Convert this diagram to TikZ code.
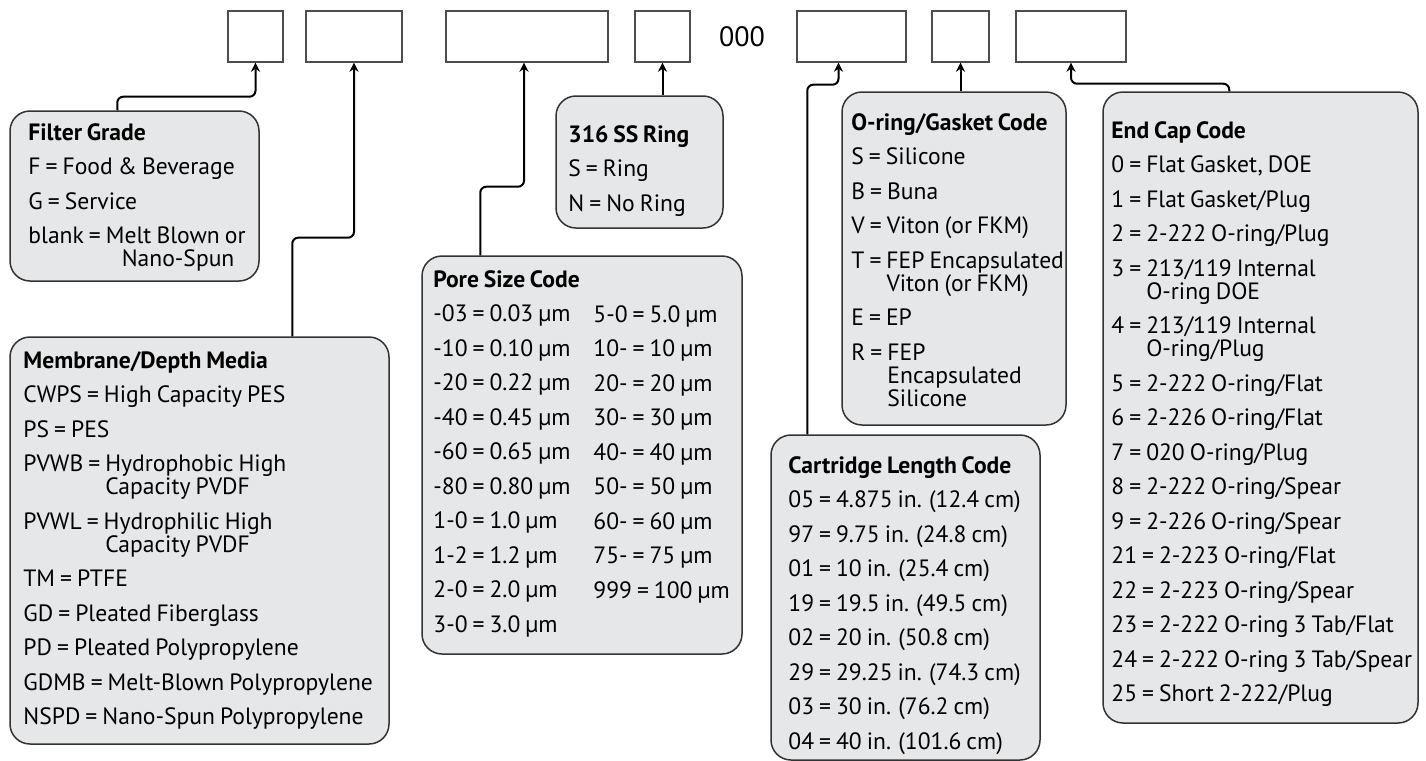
\documentclass[tikz,border=0pt]{standalone}
\usepackage{fontspec}
\setmainfont{PT Sans}[WordSpace=0.8]
\usetikzlibrary{arrows.meta, positioning, fit}
\definecolor{cpanel}{HTML}{E6E7E8}
\definecolor{cedge}{HTML}{333333}
\definecolor{cslot}{HTML}{4D4D4D}
\newcommand{\nextentry}{\\[5.75pt]}
\newcommand{\wrapcode}[1]{\\\hphantom{#1}}
\tikzset{
  slot/.style={draw=cslot, line width=0.7pt, fill=white, inner sep=0pt},
  panel/.style={draw=cedge, fill=cpanel, line width=0.75pt, rounded corners=10pt, inner sep=0pt},
  list/.style={anchor=north west, align=left, inner sep=0pt, font=\fontsize{11.8}{11.5}\selectfont},
  link/.style={-{Stealth[length=4.5pt, width=4.5pt]}, line width=1pt, rounded corners=3pt},
}

\begin{document}
\begin{tikzpicture}[x=0.5pt, y=-0.5pt]
  \useasboundingbox (0,0) rectangle (1426,761);
  % part number slots
  \node[slot, fit={(228,11) (283,62)}] (grade) {};
  \node[slot, fit={(306,11) (402,62)}] (media) {};
  \node[slot, fit={(446,11) (608,62)}] (pore) {};
  \node[slot, fit={(635,11) (690,62)}] (ring) {};
  \node[font=\fontsize{14}{16}\selectfont] (zeros) at (742,37) {000};
  \node[slot, fit={(797,11) (906,62)}] (length) {};
  \node[slot, fit={(932,11) (989,62)}] (seal) {};
  \node[slot, fit={(1016,11) (1126,62)}] (cap) {};

  % code panels
  \node[panel, fit={(10,111) (259,281)}] (gradeinfo) {};
  \node[panel, fit={(10,337) (389,744)}] (mediainfo) {};
  \node[panel, fit={(422,256) (742,654)}] (poreinfo) {};
  \node[panel, fit={(556,96) (723,228)}] (ringinfo) {};
  \node[panel, fit={(842,92) (1066,425)}] (sealinfo) {};
  \node[panel, fit={(771,435) (1040,760)}] (lengthinfo) {};
  \node[panel, fit={(1103,92) (1418,723)}] (capinfo) {};

  \node[list] (gradetext) at (28,123) {\textbf{Filter Grade}\nextentry F = Food \& Beverage\nextentry G = Service\nextentry blank = Melt Blown or\wrapcode{blank = N}Nano-Spun};
  \node[list] (mediatext) at (23,351) {\textbf{Membrane/Depth Media}\nextentry CWPS = High Capacity PES\nextentry PS = PES\nextentry PVWB = Hydrophobic High\wrapcode{PVWB = }Capacity PVDF\nextentry PVWL = Hydrophilic High\wrapcode{PVWB = }Capacity PVDF\nextentry TM = PTFE\nextentry GD = Pleated Fiberglass\nextentry PD = Pleated Polypropylene\nextentry GDMB = Melt-Blown Polypropylene\nextentry NSPD = Nano-Spun Polypropylene};
  \node[list] (poretext) at (433,270) {\textbf{Pore Size Code}\nextentry -03 = 0.03 µm\nextentry -10 = 0.10 µm\nextentry -20 = 0.22 µm\nextentry -40 = 0.45 µm\nextentry -60 = 0.65 µm\nextentry -80 = 0.80 µm\nextentry 1-0 = 1.0 µm\nextentry 1-2 = 1.2 µm\nextentry 2-0 = 2.0 µm\nextentry 3-0 = 3.0 µm};
  \node[list] (porerest) at (593,305) {5-0 = 5.0 µm\nextentry 10- = 10 µm\nextentry 20- = 20 µm\nextentry 30- = 30 µm\nextentry 40- = 40 µm\nextentry 50- = 50 µm\nextentry 60- = 60 µm\nextentry 75- = 75 µm\nextentry 999 = 100 µm};
  \node[list] (ringtext) at (568,125) {\textbf{316 SS Ring}\nextentry S = Ring\nextentry N = No Ring};
  \node[list] (sealtext) at (851,113) {\textbf{O-ring/Gasket Code}\nextentry S = Silicone\nextentry B = Buna\nextentry V = Viton (or FKM)\nextentry T = FEP Encapsulated\wrapcode{T = }Viton (or FKM)\nextentry E = EP\nextentry R = FEP\wrapcode{R = }Encapsulated\wrapcode{R = }Silicone};
  \node[list] (lengthtext) at (788,456) {\textbf{Cartridge Length Code}\nextentry 05 = 4.875 in. (12.4 cm)\nextentry 97 = 9.75 in. (24.8 cm)\nextentry 01 = 10 in. (25.4 cm)\nextentry 19 = 19.5 in. (49.5 cm)\nextentry 02 = 20 in. (50.8 cm)\nextentry 29 = 29.25 in. (74.3 cm)\nextentry 03 = 30 in. (76.2 cm)\nextentry 04 = 40 in. (101.6 cm)};
  \node[list] (captext) at (1111,121) {\textbf{End Cap Code}\nextentry 0 = Flat Gasket, DOE\nextentry 1 = Flat Gasket/Plug\nextentry 2 = 2-222 O-ring/Plug\nextentry 3 = 213/119 Internal\wrapcode{3 = }O-ring DOE\nextentry 4 = 213/119 Internal\wrapcode{4 = }O-ring/Plug\nextentry 5 = 2-222 O-ring/Flat\nextentry 6 = 2-226 O-ring/Flat\nextentry 7 = 020 O-ring/Plug\nextentry 8 = 2-222 O-ring/Spear\nextentry 9 = 2-226 O-ring/Spear\nextentry 21 = 2-223 O-ring/Flat\nextentry 22 = 2-223 O-ring/Spear\nextentry 23 = 2-222 O-ring 3 Tab/Flat\nextentry 24 = 2-222 O-ring 3 Tab/Spear\nextentry 25 = Short 2-222/Plug};

  % leaders from panels to slots
  \draw[link] ([xshift=54pt]gradeinfo.north west) |- ([yshift=-17pt]grade.south) -- (grade.south);
  \draw[link] ([xshift=141.5pt]mediainfo.north west) |- ([yshift=-87.5pt]media.south) -- (media.south);
  \draw[link] ([xshift=29.5pt]poreinfo.north west) |- ([xshift=-1.5pt, yshift=-62pt]pore.south) -- ([xshift=-1.5pt]pore.south);
  \draw[link] (ringinfo.north -| ring.south) -- (ring.south);
  \draw[link] ([xshift=18.5pt]lengthinfo.north west) |- ([xshift=-6.5pt, yshift=-11pt]length.south) -- ([xshift=-6.5pt]length.south);
  \draw[link] (sealinfo.north -| seal.south) -- (seal.south);
  \draw[link] ([xshift=63.5pt]capinfo.north west) |- ([yshift=-10.5pt]cap.south) -- (cap.south);
\end{tikzpicture}
\end{document}
